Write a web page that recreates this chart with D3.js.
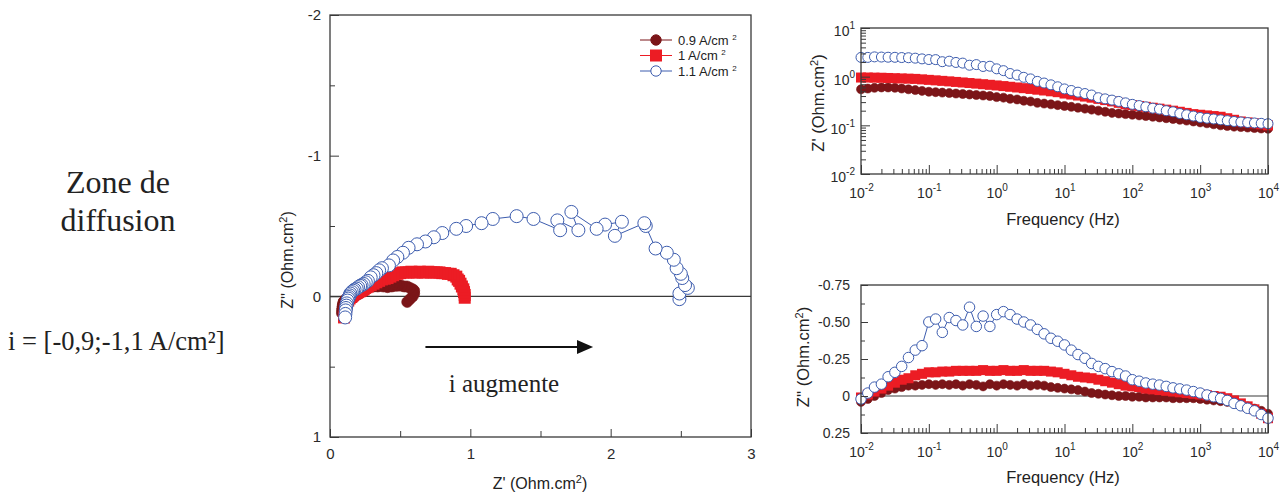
<!DOCTYPE html>
<html><head><meta charset="utf-8">
<script src="https://cdn.jsdelivr.net/npm/d3@7"></script>
<style>body{margin:0;background:#fff} svg{display:block}</style>
</head><body><svg id="c" width="1287" height="495"></svg>
<script>
// ---------------- DATA ----------------
const freqs = [0.01,0.0126,0.0158,0.02,0.0251,0.0316,0.0398,0.0501,0.0631,0.0794,
  0.1,0.126,0.158,0.2,0.251,0.316,0.398,0.501,0.631,0.794,
  1,1.26,1.58,2,2.51,3.16,3.98,5.01,6.31,7.94,
  10,12.6,15.8,20,25.1,31.6,39.8,50.1,63.1,79.4,
  100,126,158,200,251,316,398,501,631,794,
  1000,1260,1580,2000,2510,3160,3980,5010,6310,7940,10000];

// 0.9 A/cm2
const zre09 = [0.55,0.57,0.59,0.60,0.60,0.59,0.57,0.55,0.53,0.51,
  0.49,0.48,0.47,0.46,0.45,0.44,0.43,0.42,0.41,0.40,
  0.38,0.37,0.35,0.34,0.32,0.31,0.29,0.28,0.27,0.26,
  0.25,0.24,0.23,0.22,0.21,0.20,0.19,0.18,0.175,0.17,
  0.165,0.16,0.155,0.15,0.145,0.14,0.135,0.13,0.125,0.12,
  0.115,0.11,0.105,0.10,0.097,0.094,0.092,0.09,0.088,0.086,0.085];
const zim09 = [0.04,0.02,0.0,-0.02,-0.04,-0.05,-0.06,-0.07,-0.07,-0.075,
  -0.08,-0.075,-0.08,-0.075,-0.08,-0.07,-0.08,-0.075,-0.065,-0.08,
  -0.07,-0.08,-0.075,-0.07,-0.08,-0.07,-0.075,-0.07,-0.06,-0.055,
  -0.05,-0.045,-0.04,-0.03,-0.02,-0.015,-0.01,-0.005,0.0,0.0,
  0.005,0.005,0.01,0.01,0.01,0.01,0.015,0.015,0.015,0.015,
  0.02,0.025,0.03,0.035,0.04,0.05,0.06,0.07,0.085,0.10,0.12];

// 1 A/cm2
const zre10 = [0.96,0.96,0.955,0.95,0.94,0.93,0.92,0.91,0.90,0.88,
  0.86,0.84,0.82,0.80,0.78,0.76,0.74,0.72,0.70,0.68,
  0.66,0.64,0.62,0.60,0.58,0.56,0.54,0.52,0.50,0.48,
  0.45,0.43,0.41,0.39,0.37,0.35,0.33,0.31,0.29,0.27,
  0.26,0.25,0.24,0.23,0.22,0.21,0.20,0.19,0.18,0.17,
  0.165,0.16,0.155,0.15,0.14,0.13,0.12,0.115,0.11,0.105,0.10];
const zim10 = [0.01,-0.01,-0.03,-0.05,-0.07,-0.09,-0.11,-0.12,-0.14,-0.15,
  -0.16,-0.16,-0.165,-0.165,-0.17,-0.17,-0.17,-0.17,-0.175,-0.17,
  -0.17,-0.175,-0.17,-0.17,-0.175,-0.17,-0.17,-0.17,-0.165,-0.16,
  -0.15,-0.14,-0.13,-0.125,-0.12,-0.11,-0.10,-0.09,-0.08,-0.07,
  -0.065,-0.06,-0.05,-0.045,-0.04,-0.035,-0.03,-0.025,-0.02,-0.015,
  -0.01,-0.005,0.0,0.005,0.015,0.03,0.05,0.07,0.09,0.12,0.15];

// 1.1 A/cm2
const zre11 = [2.49,2.49,2.55,2.53,2.51,2.50,2.47,2.45,2.40,2.32,
  2.25,2.24,2.03,2.08,1.96,1.90,1.72,1.77,1.62,1.64,
  1.45,1.33,1.16,1.08,0.97,0.90,0.80,0.74,0.68,0.62,
  0.56,0.52,0.48,0.45,0.42,0.37,0.35,0.33,0.31,0.29,
  0.27,0.255,0.24,0.225,0.215,0.20,0.19,0.175,0.165,0.155,
  0.145,0.14,0.135,0.13,0.125,0.12,0.117,0.114,0.112,0.11,0.108];
const zim11 = [0.02,-0.02,-0.06,-0.08,-0.13,-0.16,-0.20,-0.26,-0.31,-0.34,
  -0.50,-0.52,-0.43,-0.53,-0.51,-0.48,-0.60,-0.47,-0.54,-0.47,
  -0.55,-0.57,-0.55,-0.52,-0.50,-0.48,-0.45,-0.42,-0.39,-0.37,
  -0.345,-0.31,-0.28,-0.255,-0.22,-0.20,-0.185,-0.165,-0.15,-0.135,
  -0.11,-0.10,-0.088,-0.08,-0.074,-0.065,-0.055,-0.048,-0.04,-0.03,
  -0.02,-0.007,0.005,0.016,0.03,0.05,0.066,0.083,0.10,0.125,0.15];

const seriesLabels = ["0.9 A/cm", "1 A/cm", "1.1 A/cm"];
const nyqXTicks = [0,0.5,1,1.5,2,2.5,3];
const nyqYTicks = [-2,-1.5,-1,-0.5,0,0.5,1];
const nyqXLabels = ["0","","1","","2","","3"];
const nyqYLabels = ["-2","","-1","","0","","1"];
const imTicks = [-0.75,-0.625,-0.5,-0.375,-0.25,-0.125,0,0.125,0.25];
const imLabels = ["-0.75","","-0.50","","-0.25","","0","","0.25"];

// ---------------- STYLE ----------------
const styles = [
  {color:"#7b1518", shape:"circle", fill:"#7b1518"},
  {color:"#ec1c24", shape:"square", fill:"#ec1c24"},
  {color:"#3c5cae", shape:"circle", fill:"#ffffff"}
];
const seriesRe = [zre09, zre10, zre11];
const seriesIm = [zim09, zim10, zim11];
const FONT = "'Liberation Sans', Arial, sans-serif";
const SERIF = "'Liberation Serif', 'Times New Roman', serif";
const AX = "#3a3a3a";

const svg = d3.select("#c");

// ---------------- helpers ----------------
function frame(x0,x1,y0,y1){
  svg.append("rect").attr("x",x0).attr("y",y0).attr("width",x1-x0).attr("height",y1-y0)
    .attr("fill","none").attr("stroke",AX).attr("stroke-width",1.3);
}
function drawSeries(g, pts, xs, ys, st, size){
  const line = d3.line().x(d=>xs(d[0])).y(d=>ys(d[1]));
  g.append("path").attr("d", line(pts)).attr("fill","none").attr("stroke",st.color).attr("stroke-width",1);
  if(st.shape==="circle"){
    g.selectAll(null).data(pts).join("circle")
      .attr("cx",d=>xs(d[0])).attr("cy",d=>ys(d[1])).attr("r",size/2)
      .attr("fill",st.fill).attr("stroke",st.color).attr("stroke-width",st.fill==="#ffffff"?1:0.6);
  } else {
    g.selectAll(null).data(pts).join("rect")
      .attr("x",d=>xs(d[0])-size/2).attr("y",d=>ys(d[1])-size/2)
      .attr("width",size).attr("height",size).attr("fill",st.fill);
  }
}
function supLabel(sel, exp){
  sel.text(null);
  sel.append("tspan").text("10");
  sel.append("tspan").attr("dy",-7).attr("font-size",10).text(exp);
}
function styleAxis(g){
  g.select(".domain").remove();
  g.selectAll(".tick line").attr("stroke",AX).attr("stroke-width",1);
  g.selectAll(".tick text").attr("fill","#2a2a2a").attr("font-family",FONT);
}
function unitLabel(x,y,rot,prefix,size){
  svg.append("text").attr("transform",`translate(${x},${y})`+(rot?" rotate(-90)":"")).attr("text-anchor","middle")
    .attr("font-family",FONT).attr("font-size",size).attr("fill","#222")
    .html(prefix+" (Ohm.cm<tspan font-size='11' dy='-6'>2</tspan><tspan dy='6'>)</tspan>");
}

// ---------------- NYQUIST ----------------
const nx = d3.scaleLinear().domain([0,3]).range([330,751]);
const ny = d3.scaleLinear().domain([-2,1]).range([15,437]);

svg.append("line").attr("x1",nx(0)).attr("x2",nx(3)).attr("y1",ny(0)).attr("y2",ny(0))
  .attr("stroke",AX).attr("stroke-width",1.2);

const gN = svg.append("g");
[0,1,2].forEach(k=>{
  const pts = freqs.map((f,i)=>[seriesRe[k][i], seriesIm[k][i]]);
  drawSeries(gN, pts, nx, ny, styles[k], k===1?12:(k===0?11:13));
});

let gax = svg.append("g").attr("transform",`translate(0,${ny(1)})`)
  .call(d3.axisBottom(nx).tickValues(nyqXTicks).tickSizeOuter(0).tickSize(-7).tickPadding(10)
    .tickFormat((d,i)=>nyqXLabels[i]));
styleAxis(gax);
gax.selectAll(".tick text").attr("font-size",15).attr("dy","0.71em").attr("y",11);
gax.selectAll(".tick line").attr("y2",(d,i)=>i%2? -6 : -8);

let gay = svg.append("g").attr("transform",`translate(${nx(0)},0)`)
  .call(d3.axisLeft(ny).tickValues(nyqYTicks).tickSizeOuter(0).tickSize(-7).tickPadding(8)
    .tickFormat((d,i)=>nyqYLabels[i]));
styleAxis(gay);
gay.selectAll(".tick text").attr("font-size",15).attr("x",-9);
gay.selectAll(".tick line").attr("x2",(d,i)=>i%2? 5 : 9);
frame(330,751,15,437);

unitLabel(540,489,false,"Z'",16);
unitLabel(293,260,true,"Z''",16);

// legend
const legY = [40,55.5,71];
[0,1,2].forEach(k=>{
  const st = styles[k], y = legY[k];
  svg.append("line").attr("x1",640).attr("x2",672).attr("y1",y).attr("y2",y).attr("stroke",st.color).attr("stroke-width",1);
  if(st.shape==="circle") svg.append("circle").attr("cx",656).attr("cy",y).attr("r",5.2).attr("fill",st.fill).attr("stroke",st.color).attr("stroke-width",1);
  else svg.append("rect").attr("x",650).attr("y",y-6).attr("width",12).attr("height",12).attr("fill",st.fill);
  svg.append("text").attr("x",678).attr("y",y+4.5).attr("font-family",FONT).attr("font-size",13).attr("fill","#222")
    .html(seriesLabels[k]+" <tspan font-size='8' dy='-5'>2</tspan>");
});

// arrow annotation
const ay = ny(0.36);
svg.append("line").attr("x1",nx(0.68)).attr("x2",nx(1.78)).attr("y1",ay).attr("y2",ay).attr("stroke","#111").attr("stroke-width",2);
svg.append("path").attr("d",`M${nx(1.76)},${ay-7}L${nx(1.875)},${ay}L${nx(1.76)},${ay+7}Z`).attr("fill","#111");
svg.append("text").attr("x",504).attr("y",392).attr("text-anchor","middle").attr("font-family",SERIF)
  .attr("font-size",25).attr("fill","#222").text("i augmente");

// left text
svg.append("text").attr("x",118).attr("y",193).attr("text-anchor","middle").attr("font-family",SERIF).attr("font-size",32).attr("fill","#222").text("Zone de");
svg.append("text").attr("x",118).attr("y",231).attr("text-anchor","middle").attr("font-family",SERIF).attr("font-size",32).attr("fill","#222").text("diffusion");
svg.append("text").attr("x",8).attr("y",350).attr("font-family",SERIF).attr("font-size",26.5).attr("fill","#222").text("i = [-0,9;-1,1 A/cm²]");

// ---------------- BODE ----------------
const fx = d3.scaleLog().domain([0.01,10000]).range([861,1268]);
const isMajor = d => Math.abs(Math.log10(d) - Math.round(Math.log10(d))) < 1e-6;

function freqAxis(y0){
  const g = svg.append("g").attr("transform",`translate(0,${y0})`)
    .call(d3.axisBottom(fx).tickValues(fx.ticks()).tickSizeOuter(0).tickSize(-5).tickFormat(""));
  styleAxis(g);
  g.selectAll(".tick line").attr("y2",d=>isMajor(d)?-9:-5);
  g.selectAll(".tick").filter(d=>isMajor(d)).append("text")
    .attr("y",24).attr("text-anchor","middle").attr("font-family",FONT).attr("font-size",14).attr("fill","#2a2a2a")
    .each(function(d){ supLabel(d3.select(this), String(Math.round(Math.log10(d)))); });
  return g;
}

// top: Z'
const yre = d3.scaleLog().domain([0.01,10]).range([174,28]);
const gT = svg.append("g");
[0,1,2].forEach(k=>{
  const pts = freqs.map((f,i)=>[f, seriesRe[k][i]]);
  drawSeries(gT, pts, fx, yre, styles[k], k===1?10:(k===0?9:10));
});
freqAxis(174);
let gyt = svg.append("g").attr("transform",`translate(861,0)`)
  .call(d3.axisLeft(yre).tickValues(yre.ticks()).tickSizeOuter(0).tickSize(-5).tickFormat(""));
styleAxis(gyt);
gyt.selectAll(".tick line").attr("x2",d=>isMajor(d)?9:5);
gyt.selectAll(".tick").filter(d=>isMajor(d)).append("text")
  .attr("x",-6).attr("dy","0.55em").attr("text-anchor","end").attr("font-family",FONT).attr("font-size",14).attr("fill","#2a2a2a")
  .each(function(d){ supLabel(d3.select(this), String(Math.round(Math.log10(d)))); });
frame(861,1268,28,174);
svg.append("text").attr("x",1063).attr("y",225).attr("text-anchor","middle").attr("font-family",FONT).attr("font-size",16.5).attr("fill","#222").text("Frequency (Hz)");
unitLabel(824,103,true,"Z'",16.5);

// bottom: Z''
const yim = d3.scaleLinear().domain([-0.75,0.25]).range([285,433]);
svg.append("line").attr("x1",861).attr("x2",1268).attr("y1",yim(0)).attr("y2",yim(0)).attr("stroke",AX).attr("stroke-width",1.2);
const gB = svg.append("g");
[0,1,2].forEach(k=>{
  const pts = freqs.map((f,i)=>[f, seriesIm[k][i]]);
  drawSeries(gB, pts, fx, yim, styles[k], k===1?10:(k===0?9:10.5));
});
freqAxis(433);
let gyb = svg.append("g").attr("transform",`translate(861,0)`)
  .call(d3.axisLeft(yim).tickValues(imTicks).tickSizeOuter(0).tickSize(-6).tickPadding(10).tickFormat((d,i)=>imLabels[i]));
styleAxis(gyb);
gyb.selectAll(".tick text").attr("font-size",14).attr("x",-11);
gyb.selectAll(".tick line").attr("x2",(d,i)=>i%2?4:7);
frame(861,1268,285,433);
svg.append("text").attr("x",1063).attr("y",483).attr("text-anchor","middle").attr("font-family",FONT).attr("font-size",16.5).attr("fill","#222").text("Frequency (Hz)");
unitLabel(809,357,true,"Z''",16.5);
</script></body></html>
